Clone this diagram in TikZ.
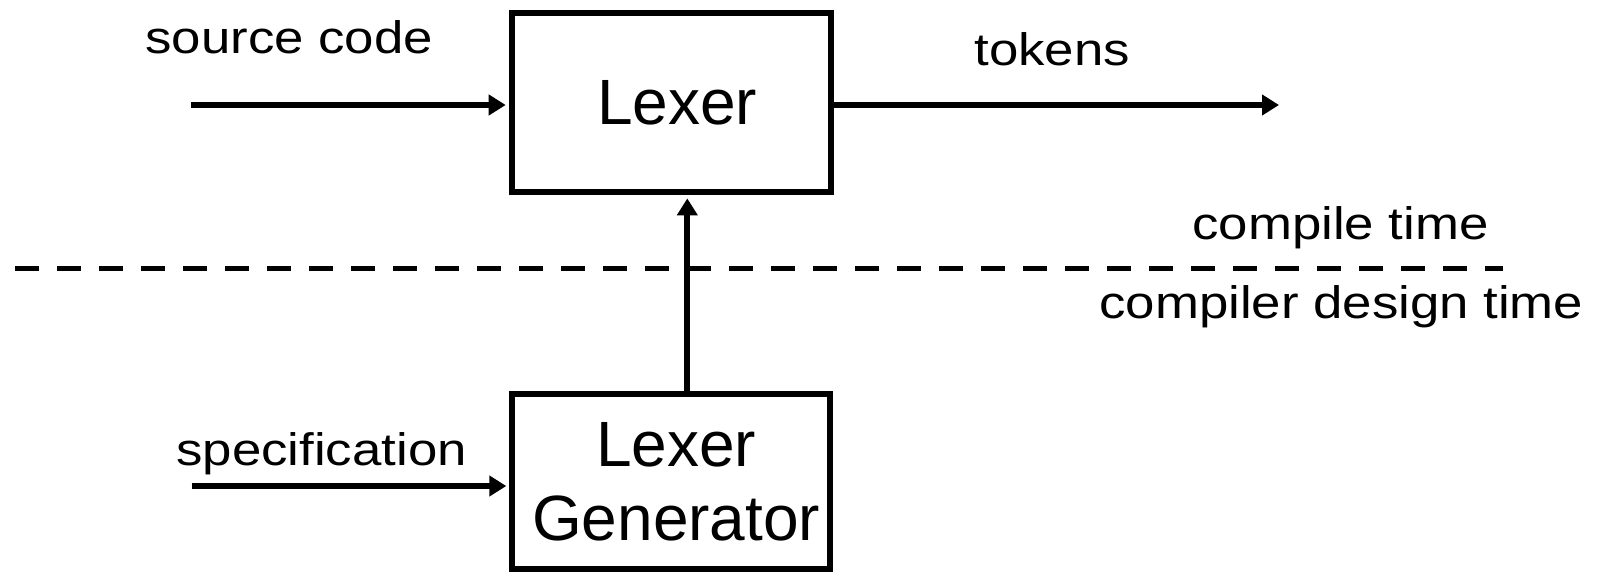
\documentclass[tikz,border=0pt]{standalone}
\usepackage{fontspec}
\setmainfont{Liberation Sans}
\newfontfamily\labelfont[FakeStretch=1.16]{Liberation Sans}
\usetikzlibrary{arrows.meta}
\tikzset{
  block/.style={draw, line width=3pt, rectangle, inner sep=0pt, align=center},
  tip/.style={-{Triangle[length=8.5pt,width=10pt]}},
  arr/.style={line width=3pt, tip, shorten >=1.5pt},
  lbl/.style={anchor=base west, inner sep=0pt, font=\labelfont\fontsize{22.75}{27}\selectfont},
  divider/.style={line width=2.7pt, dash pattern=on 12pt off 9pt}
}
\begin{document}
\begin{tikzpicture}[x=0.5pt,y=-0.5pt]
\useasboundingbox (0,0) rectangle (1605,573);

% boxes
\node[block, minimum width=159.5pt, minimum height=89.6pt,
      font=\fontsize{32}{38}\selectfont] (lexer) at (671.2,102.8) {\hspace*{6pt}Lexer};
\node[block, minimum width=158.9pt, minimum height=87.65pt,
      font=\fontsize{32}{36.75}\selectfont] (gen) at (671.2,481.7)
      {\hspace*{5pt}Lexer\\\hspace*{5pt}Generator};

% phase divider
\coordinate (dl) at (15,268.7);
\coordinate (dr) at (1503,268.7);
\draw[divider] (dl) -- (dr);

% connectors
\coordinate (src) at (191,105);
\coordinate (tok) at (1279,105);
\coordinate (spec) at (191.7,486);
\coordinate (vx) at (687.3,300);
\draw[arr] (src) -- (lexer.west |- src);
\draw[line width=3pt, tip] (lexer.east |- tok) -- (tok);
\draw[arr] (spec) -- (gen.west |- spec);
\draw[arr] (gen.north -| vx) -- (lexer.south -| vx);

% labels
\node[lbl] (lsrc) at (145,53.3) {source code};
\node[lbl] (ltok) at (974,65) {tokens};
\node[lbl] (lct) at (1192,239.3) {compile time};
\node[lbl] (lcdt) at (1099,318.3) {compiler design time};
\node[lbl] (lspec) at (176,465) {specification};
\end{tikzpicture}
\end{document}
